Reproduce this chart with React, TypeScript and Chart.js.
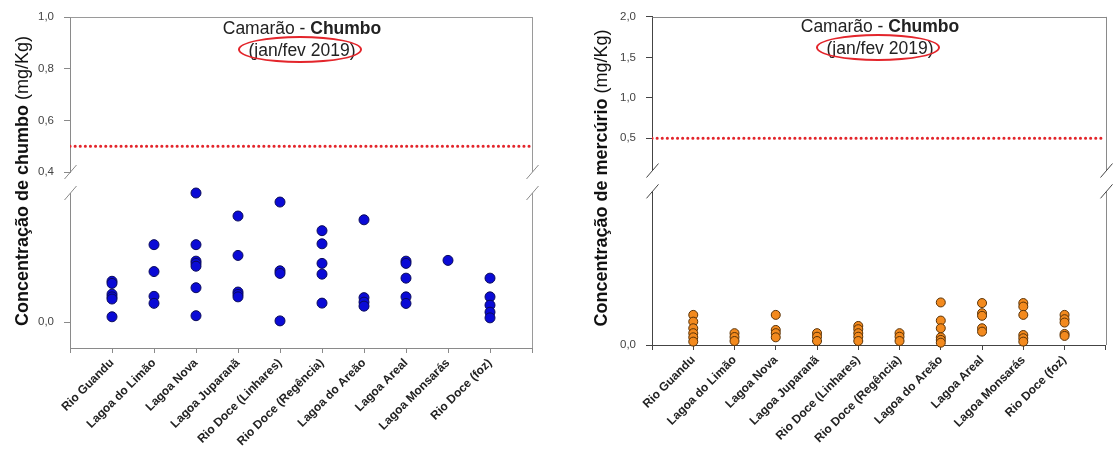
import React, { useEffect, useRef } from "react";
import { Chart, registerables } from "chart.js";

Chart.register(...registerables);
Chart.defaults.font.family = "'Liberation Sans', Arial, sans-serif";

// Sampling sites along the x axis
const SITES = [
  "Rio Guandu",
  "Lagoa do Limão",
  "Lagoa Nova",
  "Lagoa Juparanã",
  "Rio Doce (Linhares)",
  "Rio Doce (Regência)",
  "Lagoa do Areão",
  "Lagoa Areal",
  "Lagoa Monsarás",
  "Rio Doce (foz)",
];

// Lead in shrimp (mg/Kg), one list of samples per site
const LEAD = [
  [0.038, 0.036, 0.026, 0.0235, 0.0215, 0.005],
  [0.072, 0.047, 0.024, 0.0175],
  [0.12, 0.072, 0.0567, 0.0546, 0.052, 0.032, 0.006],
  [0.0986, 0.062, 0.028, 0.0258, 0.0235],
  [0.1116, 0.0477, 0.0453, 0.0012],
  [0.085, 0.0728, 0.0546, 0.0446, 0.0177],
  [0.0951, 0.0228, 0.0186, 0.0149],
  [0.0567, 0.0546, 0.0409, 0.0235, 0.0174],
  [0.0574],
  [0.0409, 0.0235, 0.0158, 0.0093, 0.004],
];

// Mercury in shrimp (mg/Kg), one list of samples per site
const MERCURY = [
  [0.0196, 0.0152, 0.0109, 0.0077, 0.005, 0.0022],
  [0.0077, 0.0052, 0.0026],
  [0.0196, 0.0098, 0.0077, 0.005],
  [0.0077, 0.0054, 0.0026],
  [0.0124, 0.0103, 0.0077, 0.0054, 0.0026],
  [0.0077, 0.0054, 0.0026],
  [0.0277, 0.0159, 0.0109, 0.005, 0.0033, 0.0015],
  [0.0273, 0.0207, 0.019, 0.0109, 0.0087],
  [0.0273, 0.025, 0.0196, 0.0065, 0.0044, 0.0022],
  [0.0196, 0.0168, 0.0146, 0.0072, 0.0059],
];

// Legal limits (mg/Kg)
const LEAD_LIMIT = 0.5;
const MERCURY_LIMIT = 0.5;

// Broken y axes: upper and lower segments
const LEAD_UPPER_RANGE = [0.4, 1.0];
const LEAD_LOWER_RANGE = [-0.024, 0.12];
const LEAD_UPPER_TICKS = [0.4, 0.6, 0.8, 1.0];
const LEAD_LOWER_TICKS = [0];

const MERCURY_UPPER_RANGE = [0.1, 2.0];
const MERCURY_LOWER_RANGE = [0, 0.1];
const MERCURY_UPPER_TICKS = [0.5, 1.0, 1.5, 2.0];
const MERCURY_LOWER_TICKS = [0];

const TITLE_MAIN = "Camarão - ";
const TITLE_METAL = "Chumbo";
const TITLE_PERIOD = "(jan/fev 2019)";

const FONT = "'Liberation Sans', Arial, sans-serif";

type PanelSpec = {
  values: number[][];
  limit: number;
  upperRange: number[];
  lowerRange: number[];
  upperTicks: number[];
  lowerTicks: number[];
  fill: string;
  stroke: string;
  radius: number;
  axisColor: string;
  frameColor: string;
  padTop: number;
  padRight: number;
  yWidth: number;
  xHeight: number;
};

const commaLabel = (v: number) => Number(v).toFixed(1).replace(".", ",");

// Draws the top/right frame and the "//" break marks of the split axis
const brokenFrame = {
  id: "brokenFrame",
  afterDraw(chart: any, _args: any, opts: any) {
    const { ctx, chartArea } = chart;
    const up = chart.scales.yTop;
    const lo = chart.scales.yBot;
    const l = Math.round(chartArea.left) + 0.5;
    const r = Math.round(chartArea.right) + 0.5;
    ctx.save();
    ctx.lineWidth = 1;
    ctx.strokeStyle = opts.color;
    ctx.beginPath();
    ctx.moveTo(l, Math.round(up.top) + 0.5);
    ctx.lineTo(r, Math.round(up.top) + 0.5);
    ctx.moveTo(r, up.top);
    ctx.lineTo(r, up.bottom);
    ctx.moveTo(r, lo.top);
    ctx.lineTo(r, lo.bottom);
    ctx.stroke();
    ctx.strokeStyle = opts.breakColor;
    ctx.beginPath();
    for (const x of [l, r]) {
      for (const y of [up.bottom, lo.top]) {
        ctx.moveTo(x - 6, y + 7);
        ctx.lineTo(x + 6, y - 7);
      }
    }
    ctx.stroke();
    ctx.restore();
  },
};

function yScale(spec: PanelSpec, range: number[], ticks: number[], weight: number, stackWeight: number) {
  return {
    type: "linear",
    axis: "y",
    position: "left",
    stack: "split",
    stackWeight,
    weight,
    min: range[0],
    max: range[1],
    afterBuildTicks: (s: any) => {
      s.ticks = ticks.map((v) => ({ value: v }));
    },
    afterFit: (s: any) => {
      s.width = spec.yWidth;
    },
    ticks: {
      callback: (v: number) => commaLabel(v),
      color: "#444",
      font: { size: 11.5, family: FONT },
      padding: 10,
    },
    grid: {
      drawOnChartArea: false,
      drawTicks: true,
      tickLength: 6,
      color: spec.axisColor,
    },
    border: { display: true, color: spec.axisColor, width: 1 },
  };
}

function buildChart(canvas: HTMLCanvasElement, spec: PanelSpec) {
  const points = spec.values.flatMap((vals, i) => vals.map((v) => ({ x: i + 1, y: v })));
  const n = SITES.length;
  return new Chart(canvas, {
    type: "scatter",
    data: {
      datasets: [
        {
          type: "line",
          data: [
            { x: 0, y: spec.limit },
            { x: n + 1, y: spec.limit },
          ],
          xAxisID: "x",
          yAxisID: "yTop",
          borderColor: "#e3252b",
          borderWidth: 3,
          borderDash: [0.1, 5],
          borderCapStyle: "round",
          pointRadius: 0,
          fill: false,
        },
        {
          data: points,
          xAxisID: "x",
          yAxisID: "yBot",
          backgroundColor: spec.fill,
          borderColor: spec.stroke,
          borderWidth: 1,
          pointRadius: spec.radius,
          clip: false,
        },
      ],
    } as any,
    options: {
      responsive: false,
      animation: false,
      events: [],
      layout: { padding: { left: 0, top: spec.padTop, right: spec.padRight, bottom: 0 } },
      plugins: {
        legend: { display: false },
        tooltip: { enabled: false },
        brokenFrame: { color: spec.frameColor, breakColor: spec.axisColor },
      } as any,
      scales: {
        x: {
          type: "linear",
          position: "bottom",
          min: 0,
          max: n + 1,
          afterBuildTicks: (s: any) => {
            s.ticks = Array.from({ length: n + 2 }, (_, i) => ({ value: i }));
          },
          afterFit: (s: any) => {
            s.height = spec.xHeight;
          },
          ticks: {
            autoSkip: false,
            minRotation: 45,
            maxRotation: 45,
            padding: 3,
            color: "#222",
            font: { size: 12, weight: "bold", family: FONT },
            callback: (v: number) => SITES[v - 1] ?? "",
          },
          grid: { drawOnChartArea: false, drawTicks: true, tickLength: 5, color: spec.axisColor },
          border: { display: true, color: spec.axisColor, width: 1 },
        },
        yTop: yScale(spec, spec.upperRange, spec.upperTicks, 3, 155),
        yGap: {
          type: "linear",
          axis: "y",
          position: "left",
          stack: "split",
          stackWeight: 21,
          weight: 2,
          display: false,
          afterFit: (s: any) => {
            s.width = spec.yWidth;
          },
        },
        yBot: yScale(spec, spec.lowerRange, spec.lowerTicks, 1, 155),
      } as any,
    },
    plugins: [brokenFrame as any],
  });
}

function Panel(props: { left: number; width: number; spec: PanelSpec }) {
  const ref = useRef<HTMLCanvasElement | null>(null);
  useEffect(() => {
    if (!ref.current) return;
    const chart = buildChart(ref.current, props.spec);
    return () => chart.destroy();
  }, []);
  return (
    <canvas
      ref={ref}
      width={props.width}
      height={452}
      style={{ position: "absolute", left: props.left, top: 0, width: props.width, height: 452 }}
    />
  );
}

function Heading(props: { cx: number; top: number }) {
  const { cx, top } = props;
  const text: React.CSSProperties = {
    position: "absolute",
    left: cx - 150,
    width: 300,
    textAlign: "center",
    fontFamily: FONT,
    fontSize: 17.5,
    lineHeight: "20px",
    color: "#222",
    whiteSpace: "nowrap",
  };
  return (
    <>
      <div style={{ ...text, top }}>
        {TITLE_MAIN}
        <b>{TITLE_METAL}</b>
      </div>
      <div style={{ ...text, top: top + 22 }}>{TITLE_PERIOD}</div>
      <div
        style={{
          position: "absolute",
          left: cx - 64,
          top: top + 18,
          width: 124,
          height: 27,
          border: "2px solid #e3252b",
          borderRadius: "50%",
          boxSizing: "border-box",
        }}
      />
    </>
  );
}

function AxisTitle(props: { cx: number; cy: number; bold: string; unit: string }) {
  return (
    <div style={{ position: "absolute", left: props.cx, top: props.cy, width: 0, height: 0 }}>
      <div
        style={{
          position: "absolute",
          left: -200,
          top: -11,
          width: 400,
          height: 22,
          lineHeight: "22px",
          textAlign: "center",
          transform: "rotate(-90deg)",
          transformOrigin: "200px 11px",
          fontFamily: FONT,
          fontSize: 18,
          color: "#111",
          whiteSpace: "nowrap",
        }}
      >
        <b>{props.bold}</b> {props.unit}
      </div>
    </div>
  );
}

const leadSpec: PanelSpec = {
  values: LEAD,
  limit: LEAD_LIMIT,
  upperRange: LEAD_UPPER_RANGE,
  lowerRange: LEAD_LOWER_RANGE,
  upperTicks: LEAD_UPPER_TICKS,
  lowerTicks: LEAD_LOWER_TICKS,
  fill: "#0a0ad6",
  stroke: "#0a0a5a",
  radius: 5,
  axisColor: "#8a8a8a",
  frameColor: "#9a9a9a",
  padTop: 17,
  padRight: 28,
  yWidth: 70,
  xHeight: 104,
};

const mercurySpec: PanelSpec = {
  values: MERCURY,
  limit: MERCURY_LIMIT,
  upperRange: MERCURY_UPPER_RANGE,
  lowerRange: MERCURY_LOWER_RANGE,
  upperTicks: MERCURY_UPPER_TICKS,
  lowerTicks: MERCURY_LOWER_TICKS,
  fill: "#f38a1e",
  stroke: "#5a3206",
  radius: 4.5,
  axisColor: "#444",
  frameColor: "#8a8a8a",
  padTop: 14,
  padRight: 1,
  yWidth: 92,
  xHeight: 107,
};

export default function App() {
  return (
    <div
      style={{
        position: "fixed",
        left: 0,
        top: 0,
        width: 1119,
        height: 452,
        background: "#fff",
        overflow: "hidden",
      }}
    >
      <Panel left={0} width={560} spec={leadSpec} />
      <Panel left={560} width={559} spec={mercurySpec} />
      <Heading cx={302} top={18} />
      <Heading cx={880} top={16} />
      <AxisTitle cx={22} cy={181} bold="Concentração de chumbo" unit="(mg/Kg)" />
      <AxisTitle cx={601} cy={178} bold="Concentração de mercúrio" unit="(mg/Kg)" />
    </div>
  );
}
